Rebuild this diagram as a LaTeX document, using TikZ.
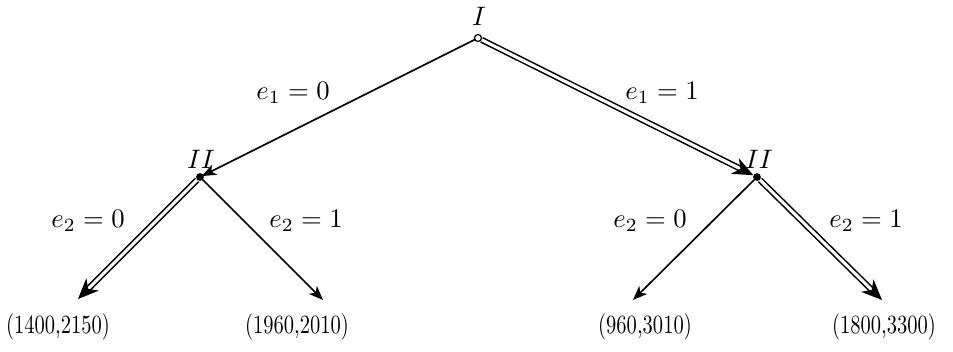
\documentclass[tikz,border=0pt]{standalone}
\usetikzlibrary{arrows.meta}
\begin{document}
\begin{tikzpicture}[x=0.487pt,y=-0.487pt,
  edge/.style={line width=0.8pt,-{Stealth[length=7pt,width=5.5pt,inset=2pt]}},
  dbl/.style={double,double distance=1.5pt,line width=0.75pt,-{Stealth[length=10pt,width=8.5pt,inset=3pt]}},
  lab/.style={inner sep=1pt,scale=1.3},
  pay/.style={inner sep=1pt,xscale=1.0,yscale=1.28},
  chance/.style={circle,draw,fill=white,line width=0.6pt,inner sep=0pt,minimum size=3.4pt},
  dec/.style={circle,fill=black,inner sep=0pt,minimum size=3.8pt}]
\useasboundingbox (0,0) rectangle (953,351);
\coordinate (r) at (478,38);
\coordinate (a) at (200,177);
\coordinate (b) at (757,177);
\coordinate (l1) at (78,299);
\coordinate (l2) at (323,300);
\coordinate (l3) at (633,300);
\coordinate (l4) at (882,300);
\draw[edge,shorten >=1pt] (r) -- (a);
\draw[dbl,shorten >=2pt,shorten <=2pt] (r) -- (b);
\draw[dbl,shorten <=2pt] (a) -- (l1);
\draw[edge] (a) -- (l2);
\draw[edge] (b) -- (l3);
\draw[dbl,shorten <=2pt] (b) -- (l4);
\node[chance] (rn) at (r) {};
\node[dec] (an) at (a) {};
\node[dec] (bn) at (b) {};
\node[lab] (rl) at (479,16) {$I$};
\node[lab] (al) at (201,159) {$II$};
\node[lab] (bl) at (759,159) {$II$};
\node[lab] (e10) at (293,93) {$e_1=0$};
\node[lab] (e11) at (662,93) {$e_1=1$};
\node[lab] (e20a) at (88,221) {$e_2=0$};
\node[lab] (e21a) at (306,221) {$e_2=1$};
\node[lab] (e20b) at (650,221) {$e_2=0$};
\node[lab] (e21b) at (866,221) {$e_2=1$};
\node[pay] (p1) at (58,327) {(1400,2150)};
\node[pay] (p2) at (297,327) {(1960,2010)};
\node[pay] (p3) at (645,327) {(960,3010)};
\node[pay] (p4) at (884,327) {(1800,3300)};
\end{tikzpicture}
\end{document}
